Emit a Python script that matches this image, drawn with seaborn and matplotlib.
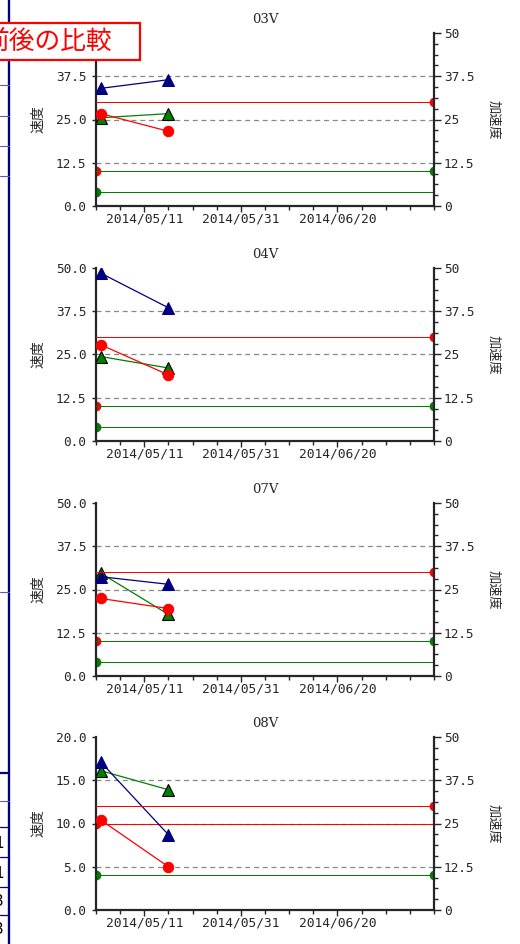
import numpy as np
import pandas as pd
import matplotlib
matplotlib.use('Agg')
import matplotlib.pyplot as plt
import matplotlib.dates as mdates
import seaborn as sns
from matplotlib.ticker import FixedLocator, AutoMinorLocator, FormatStrFormatter, FuncFormatter
from matplotlib.patches import Rectangle
from matplotlib.lines import Line2D

# --- data ---
titles = ['03V', '04V', '07V', '08V']
point_dates = ['2014-05-02', '2014-05-16']
blue_vals = [[34.0, 36.5], [48.5, 38.5], [28.7, 26.5], [17.1, 8.7]]
green_vals = [[25.5, 26.7], [24.4, 21.1], [29.7, 17.8], [16.1, 13.9]]
red_vals = [[26.7, 21.6], [27.8, 19.1], [22.4, 19.5], [10.4, 5.0]]
left_max = [50.0, 50.0, 50.0, 20.0]
right_max = 50.0
# threshold lines: left axis (speed) and right axis (acceleration)
left_red, left_green = 10.0, 4.0
right_red, right_green = 30.0, 10.0
x_start, x_end = '2014-05-01', '2014-07-10'
tick_dates = ['2014-05-11', '2014-05-31', '2014-06-20']

RED = '#ff0000'
GREEN = '#008000'
NAVY = '#000080'

sns.set_style('ticks')
plt.rcParams['font.family'] = ['DejaVu Sans Mono', 'Noto Sans CJK JP']
plt.rcParams['axes.linewidth'] = 1.6

W, H = 520, 944
fig = plt.figure(figsize=(W / 100, H / 100), dpi=100)


def fx(px):
    return px / W


def fy(py):
    return 1 - py / H


panel_tops = [33, 268, 503, 737]
panel_h = 173
x0, x1 = pd.Timestamp(x_start), pd.Timestamp(x_end)
dates = pd.to_datetime(point_dates)
thr_lw = 0.72  # one pixel

for i, top in enumerate(panel_tops):
    ax = fig.add_axes([fx(96), fy(top + panel_h), fx(434) - fx(96), panel_h / H])
    ymax = left_max[i]
    yticks = np.linspace(0, ymax, 5)

    # dashed grid on inner ticks
    for v in yticks[1:-1]:
        ax.axhline(v, color='#888888', lw=0.9, ls=(0, (4, 3)), zorder=0.5)

    # left-axis threshold lines with marker on left edge
    ax.axhline(left_red, color=RED, lw=thr_lw, zorder=1, antialiased=False)
    ax.plot([x0], [left_red], 'o', color=RED, ms=6, zorder=2)
    ax.axhline(left_green, color=GREEN, lw=thr_lw, zorder=1, antialiased=False)
    ax.plot([x0], [left_green], 'o', color=GREEN, ms=6, zorder=2)

    sns.lineplot(x=dates, y=green_vals[i], ax=ax, color=GREEN, lw=0.9,
                 marker='^', markersize=9, markerfacecolor=GREEN,
                 markeredgecolor='black', markeredgewidth=0.8, zorder=3)
    sns.lineplot(x=dates, y=blue_vals[i], ax=ax, color=NAVY, lw=0.9,
                 marker='^', markersize=9, markerfacecolor=NAVY,
                 markeredgecolor=NAVY, zorder=4)
    sns.lineplot(x=dates, y=red_vals[i], ax=ax, color=RED, lw=0.9,
                 marker='o', markersize=7.5, markerfacecolor=RED,
                 markeredgecolor=RED, zorder=5)

    ax.set_xlim(x0, x1)
    ax.set_ylim(0, ymax)
    ax.set_yticks(yticks)
    ax.yaxis.set_major_formatter(FormatStrFormatter('%.1f'))
    ax.xaxis.set_major_locator(FixedLocator(mdates.date2num(pd.to_datetime(tick_dates))))
    ax.xaxis.set_major_formatter(mdates.DateFormatter('%Y/%m/%d'))
    ax.xaxis.set_minor_locator(FixedLocator(mdates.date2num(pd.date_range(x0, x1, freq='5D'))))
    ax.tick_params(axis='x', which='major', length=4, width=1, pad=1, labelsize=9.3)
    ax.tick_params(axis='x', which='minor', length=3, width=1)
    ax.tick_params(axis='y', length=3, width=1, pad=4, labelsize=9.2)
    ax.spines['top'].set_visible(False)
    ax.spines['right'].set_visible(False)
    ax.set_xlabel('')
    ax.set_ylabel('速度', family=['Noto Sans CJK JP'], fontsize=10,
                  va='center', ha='center')
    ax.yaxis.set_label_coords(-0.172, 0.5)
    ax.set_title(titles[i], family='DejaVu Serif', fontsize=9.5, pad=7)

    ax2 = ax.twinx()
    ax2.axhline(right_red, color=RED, lw=thr_lw, zorder=1, antialiased=False)
    ax2.plot([x1], [right_red], 'o', color=RED, ms=6, zorder=2)
    ax2.axhline(right_green, color=GREEN, lw=thr_lw, zorder=1, antialiased=False)
    ax2.plot([x1], [right_green], 'o', color=GREEN, ms=6, zorder=2)
    ax2.set_xlim(x0, x1)
    ax2.set_ylim(0, right_max)
    ax2.set_yticks(np.linspace(0, right_max, 5))
    ax2.yaxis.set_major_formatter(FuncFormatter(lambda v, p: f'{v:g}'))
    ax2.yaxis.set_minor_locator(AutoMinorLocator(4))
    ax2.tick_params(axis='y', which='major', length=5, width=1, pad=2, labelsize=9.2)
    ax2.tick_params(axis='y', which='minor', length=3, width=1)
    for s in ['top', 'left', 'bottom']:
        ax2.spines[s].set_visible(False)
    ax2.set_ylabel('加速度', family=['Noto Sans CJK JP'], fontsize=9.5,
                   rotation=270, va='center', ha='center')
    ax2.yaxis.set_label_coords(1.175, 0.5)

# page fragments on the left edge
fig.add_artist(Line2D([fx(8.5)] * 2, [0, 1], color=NAVY, lw=1.7,
                      transform=fig.transFigure, zorder=6))
side_rows = [(85, '#5a5ab4', 0.8), (116, '#5a5ab4', 0.8), (146, '#5a5ab4', 0.8),
             (176, '#5a5ab4', 0.8), (592, '#5a5ab4', 0.8), (773, NAVY, 1.6),
             (801, '#5a5ab4', 0.8), (827, NAVY, 0.9), (857, NAVY, 0.9),
             (887, NAVY, 0.9), (915, NAVY, 0.9)]
for y, c, lw in side_rows:
    fig.add_artist(Line2D([0, fx(9)], [fy(y)] * 2, color=c, lw=lw,
                          transform=fig.transFigure, zorder=6))
for y, s in [(844, '1'), (873, '1'), (901, '3'), (930, '3')]:
    fig.text(fx(4), fy(y), s, ha='right', va='center', fontsize=11,
             family='DejaVu Sans', color='black')

# red title box (cut at left edge)
fig.add_artist(Rectangle((fx(-5), fy(60)), fx(140) - fx(-5), 37 / H,
                         transform=fig.transFigure, facecolor='white',
                         edgecolor=RED, lw=1.6, zorder=10))
fig.text(fx(-16), fy(42), '前後の比較', color=RED, fontsize=18.5,
         family=['Noto Sans CJK JP'], ha='left', va='center', zorder=11)

fig.savefig('out.png', dpi=100)
